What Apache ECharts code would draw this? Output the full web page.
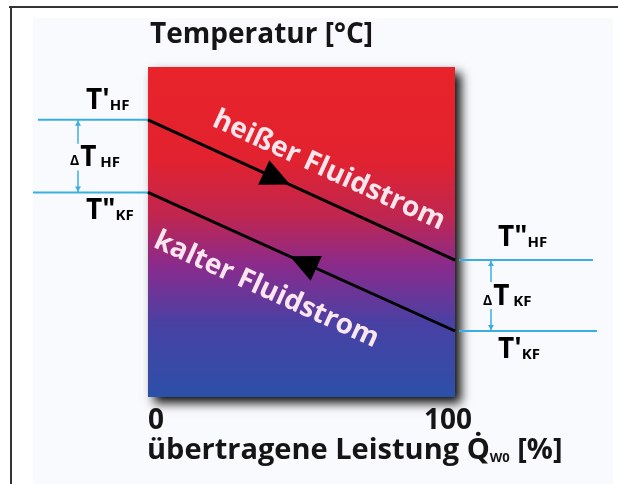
<!DOCTYPE html>
<html>
<head>
<meta charset="utf-8">
<script src="https://cdn.jsdelivr.net/npm/echarts@6/dist/echarts.min.js"></script>
<style>
html,body{margin:0;padding:0;background:#fff;}
#c{width:618px;height:484px;}
</style>
</head>
<body>
<div id="c"></div>
<script>
// ---- data ----
const xRange = [0, 100];                 // übertragene Leistung [%]
const xTickLabels = ['0', '100'];
const hotStream = [[0, 84], [100, 41.5]];   // heißer Fluidstrom, temperature
const coldStream = [[0, 62], [100, 20]];    // kalter Fluidstrom, temperature
const hotArrow = [[42, 66.2]];              // arrow on hot stream (flow to the right)
const coldArrow = [[50.5, 40.8]];           // arrow on cold stream (flow to the left)
const hotLabelAt = 55;                      // x position of text label along line
const coldLabelAt = 44;
const titleY = 'Temperatur [°C]';
const titleX = 'übertragene Leistung Q̇';

const FONT = '"Open Sans", "DejaVu Sans", sans-serif';
const chart = echarts.init(document.getElementById('c'), null, {renderer: 'canvas'});

const gradient = new echarts.graphic.LinearGradient(0, 0, 0, 1, [
  {offset: 0, color: '#e8232a'},
  {offset: 0.28, color: '#e2222f'},
  {offset: 0.45, color: '#c0264f'},
  {offset: 0.6, color: '#8a2b8c'},
  {offset: 0.78, color: '#4841a4'},
  {offset: 1, color: '#2c50a8'}
]);

const option = {
  animation: false,
  backgroundColor: '#ffffff',
  grid: {
    left: 148, right: 163, top: 67, bottom: 87,
    show: true,
    backgroundColor: gradient,
    borderWidth: 0,
    shadowColor: 'rgba(0,0,0,0.95)',
    shadowBlur: 10,
    shadowOffsetX: 6,
    shadowOffsetY: 6
  },
  xAxis: {
    type: 'value', min: xRange[0], max: xRange[1], interval: 100,
    axisLine: {show: false}, axisTick: {show: false}, splitLine: {show: false},
    axisLabel: {
      margin: 10,
      fontFamily: FONT, fontWeight: 'bold', fontSize: 28, color: '#151515',
      alignMinLabel: 'left', alignMaxLabel: 'center',
      padding: [0, 14, 0, 0],
      formatter: (v) => v === 0 ? xTickLabels[0] : (v === 100 ? xTickLabels[1] : '')
    }
  },
  yAxis: {
    type: 'value', min: 0, max: 100,
    axisLine: {show: false}, axisTick: {show: false}, splitLine: {show: false},
    axisLabel: {show: false}
  },
  title: [
    {
      text: titleY, left: 145, top: 16,
      textStyle: {fontFamily: FONT, fontWeight: 'bold', fontSize: 28, color: '#151515'}
    },
    {
      text: '{b|' + titleX + '}{s|W0}{b| [%]}', left: 142, top: 431,
      textStyle: {
        rich: {
          b: {fontFamily: FONT, fontWeight: 'bold', fontSize: 29, color: '#151515'},
          s: {fontFamily: FONT, fontWeight: 'bold', fontSize: 13, color: '#151515', verticalAlign: 'bottom', padding: [16, 0, 0, 0]}
        }
      }
    }
  ],
  series: [
    {type: 'line', data: hotStream, showSymbol: false, lineStyle: {color: '#000', width: 3}, z: 3},
    {type: 'line', data: coldStream, showSymbol: false, lineStyle: {color: '#000', width: 3}, z: 3},
    {type: 'scatter', data: hotArrow, symbol: 'triangle', symbolSize: [27, 29], itemStyle: {color: '#000', opacity: 1}, z: 4},
    {type: 'scatter', data: coldArrow, symbol: 'triangle', symbolSize: [27, 29], itemStyle: {color: '#000', opacity: 1}, z: 4}
  ]
};
chart.setOption(option);

// derived geometry from the axes
const px = (p) => chart.convertToPixel({gridIndex: 0}, p);
const h0 = px(hotStream[0]), h1 = px(hotStream[1]);
const c0 = px(coldStream[0]), c1 = px(coldStream[1]);
const ang = Math.atan2(h1[1] - h0[1], h1[0] - h0[0]); // radians, positive downward
const deg = ang * 180 / Math.PI;

chart.setOption({
  series: [{}, {}, {symbolRotate: -90 - deg}, {symbolRotate: 90 - deg}]
});

const blue = '#3aaee2';
const gridLeft = h0[0], gridRight = h1[0];
const yHL = h0[1], yKL = c0[1], yHR = h1[1], yKR = c1[1];

const rich = {
  t: {fontFamily: FONT, fontWeight: 'bold', fontSize: 28, color: '#151515'},
  s: {fontFamily: FONT, fontWeight: 'bold', fontSize: 15, color: '#151515', padding: [9, 0, 0, 0]},
  d: {fontFamily: FONT, fontWeight: 'bold', fontSize: 14, color: '#151515', padding: [6, 1, 0, 0]}
};

function label(x, y, text, vAlign) {
  return {type: 'text', x: x, y: y, z: 20,
    style: {text: text, rich: rich, align: 'left', verticalAlign: vAlign}};
}

const leftArrowX = 78, rightArrowX = 491;
const g = [
  // reference lines
  {type: 'line', shape: {x1: 38, y1: yHL, x2: gridLeft, y2: yHL}, style: {stroke: blue, lineWidth: 2}, z: 1},
  {type: 'line', shape: {x1: 33, y1: yKL, x2: gridLeft, y2: yKL}, style: {stroke: blue, lineWidth: 2}, z: 1},
  {type: 'line', shape: {x1: gridRight + 4, y1: yHR, x2: 593, y2: yHR}, style: {stroke: blue, lineWidth: 2}, z: 1},
  {type: 'line', shape: {x1: gridRight + 4, y1: yKR, x2: 597, y2: yKR}, style: {stroke: blue, lineWidth: 2}, z: 1},
  // delta markers
  {type: 'line', shape: {x1: leftArrowX, y1: yHL, x2: leftArrowX, y2: yHL + 24}, style: {stroke: blue, lineWidth: 1.5}},
  {type: 'line', shape: {x1: leftArrowX, y1: yKL - 22, x2: leftArrowX, y2: yKL}, style: {stroke: blue, lineWidth: 1.5}},
  {type: 'line', shape: {x1: rightArrowX, y1: yHR, x2: rightArrowX, y2: yHR + 22}, style: {stroke: blue, lineWidth: 1.5}},
  {type: 'line', shape: {x1: rightArrowX, y1: yKR - 22, x2: rightArrowX, y2: yKR}, style: {stroke: blue, lineWidth: 1.5}},
  {type: 'polygon', shape: {points: [[leftArrowX - 3, yHL + 6], [leftArrowX + 3, yHL + 6], [leftArrowX, yHL + 1]]}, style: {fill: blue}},
  {type: 'polygon', shape: {points: [[leftArrowX - 3, yKL - 6], [leftArrowX + 3, yKL - 6], [leftArrowX, yKL - 1]]}, style: {fill: blue}},
  {type: 'polygon', shape: {points: [[rightArrowX - 3, yHR + 6], [rightArrowX + 3, yHR + 6], [rightArrowX, yHR + 1]]}, style: {fill: blue}},
  {type: 'polygon', shape: {points: [[rightArrowX - 3, yKR - 6], [rightArrowX + 3, yKR - 6], [rightArrowX, yKR - 1]]}, style: {fill: blue}},
  // labels
  label(86, yHL - 5, "{t|T'}{s|HF}", 'bottom'),
  label(70, (yHL + yKL) / 2 + 2, '{d|Δ}{t|T}{s| HF}', 'middle'),
  label(86, yKL + 5, '{t|T"}{s|KF}', 'top'),
  label(498, yHR - 8, '{t|T"}{s|HF}', 'bottom'),
  label(483, (yHR + yKR) / 2 + 2, '{d|Δ}{t|T}{s| KF}', 'middle'),
  label(498, yKR + 5, "{t|T'}{s|KF}", 'top')
];

// stream texts along lines
function streamText(a, b, xData, perp, text) {
  const mid = px([xData, a[1] + (b[1] - a[1]) * (xData - a[0]) / (b[0] - a[0])]);
  const x = mid[0] - Math.sin(ang) * perp;
  const y = mid[1] + Math.cos(ang) * perp;
  return {type: 'text', x: x, y: y, rotation: -ang, z: 10,
    style: {text: text, fontFamily: FONT, fontWeight: 'bold', fontSize: 28, fill: '#fbe6ee',
      align: 'center', verticalAlign: 'middle',
      shadowBlur: 3, shadowColor: 'rgba(255,170,200,0.8)'}};
}
g.push(streamText(hotStream[0], hotStream[1], hotLabelAt, -29, 'heißer Fluidstrom'));
g.push(streamText(coldStream[0], coldStream[1], coldLabelAt, 40, 'kalter Fluidstrom'));

// outer frame
g.push({type: 'rect', shape: {x: 33, y: 18, width: 580, height: 470}, style: {fill: '#f9fafd'}, z: -10, silent: true});
g.push({type: 'line', shape: {x1: 9, y1: 7, x2: 618, y2: 7}, style: {stroke: '#333', lineWidth: 2}, z: -5});
g.push({type: 'line', shape: {x1: 11, y1: 7, x2: 11, y2: 484}, style: {stroke: '#333', lineWidth: 2}, z: -5});

chart.setOption({graphic: g});
</script>
</body>
</html>
